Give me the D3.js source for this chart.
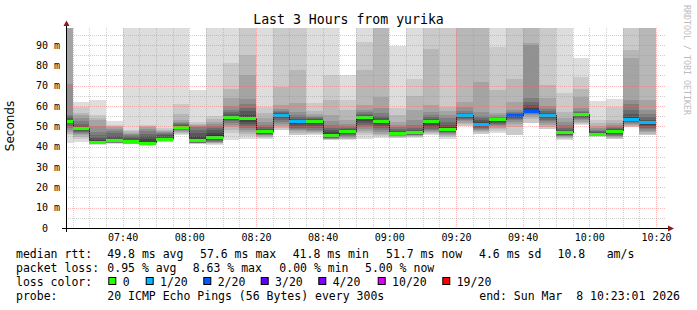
<!DOCTYPE html>
<html>
<head>
<meta charset="utf-8">
<script src="https://cdnjs.cloudflare.com/ajax/libs/d3/7.8.5/d3.min.js"></script>
<style>
  body { margin: 0; background: #fff; }
  svg text { font-family: "DejaVu Sans Mono", monospace; white-space: pre; }
</style>
</head>
<body>
<svg id="chart" width="697" height="310"></svg>
<script>
// start of each 5 minute step
const times = ["07:20", "07:25", "07:30", "07:35", "07:40", "07:45", "07:50", "07:55",
  "08:00", "08:05", "08:10", "08:15", "08:20", "08:25", "08:30", "08:35", "08:40", "08:45",
  "08:50", "08:55", "09:00", "09:05", "09:10", "09:15", "09:20", "09:25", "09:30", "09:35",
  "09:40", "09:45", "09:50", "09:55", "10:00", "10:05", "10:10", "10:15"];

const medians = [52.5, 49.0, 42.1, 43.1, 42.4, 41.8, 43.7, 49.6, 42.9, 44.7, 54.5, 53.7,
  47.3, 55.4, 52.5, 52.6, 45.3, 47.3, 54.4, 52.6, 46.5, 46.8, 52.2, 48.3, 55.5, 51.1,
  53.2, 55.2, 57.5, 55.5, 46.8, 55.9, 46.2, 47.7, 53.6, 51.8];

const lossCounts = [0, 0, 0, 0, 0, 0, 0, 0, 0, 0, 0, 0, 0, 1, 1, 0, 0, 0, 0, 0, 0, 0, 0, 0,
  1, 1, 0, 2, 2, 1, 0, 0, 0, 0, 1, 1];

// 20 sorted pings per step (ms), null = lost
const pings = [
  [42.0, 45.7, 46.0, 47.0, 48.0, 49.0, 50.0, 51.5, 52.0, 52.3, 52.8, 53.0, 54.0, 55.0, 55.5, 70.6, 104, 118, 135, 160],
  [42.3, 44.0, 44.8, 45.5, 46.0, 46.5, 47.0, 47.5, 48.0, 48.6, 49.2, 49.6, 50.2, 51.0, 52.5, 54.0, 55.8, 56.5, 59.6, 61.9],
  [41.0, 41.2, 41.4, 41.5, 41.6, 41.7, 41.8, 41.9, 42.0, 42.1, 42.5, 43.5, 44.5, 45.5, 47.0, 50.0, 53.0, 54.0, 55.5, 63.0],
  [41.5, 41.6, 41.7, 41.8, 41.9, 42.0, 42.2, 42.3, 42.5, 42.8, 43.5, 44.0, 45.0, 46.5, 47.5, 48.5, 49.5, 50.0, 50.5, 52.6],
  [41.2, 41.3, 41.4, 41.5, 41.6, 41.7, 41.8, 41.9, 42.0, 42.2, 42.8, 43.5, 44.5, 45.0, 45.5, 46.0, 46.5, 47.5, 48.3, 125],
  [40.5, 40.7, 40.9, 41.0, 41.1, 41.2, 41.3, 41.4, 41.5, 41.6, 42.0, 44.0, 45.0, 46.0, 47.5, 48.5, 49.5, 50.0, 50.6, 140],
  [42.2, 42.4, 42.6, 42.8, 43.0, 43.1, 43.2, 43.3, 43.4, 43.5, 44.0, 44.5, 45.5, 46.0, 46.5, 47.0, 47.5, 48.0, 49.0, 112],
  [45.7, 46.0, 46.5, 47.0, 47.5, 48.0, 48.5, 49.0, 49.2, 49.4, 49.8, 50.2, 50.5, 51.0, 51.5, 52.2, 53.0, 56.0, 60.9, 130],
  [41.3, 41.5, 41.6, 41.7, 41.8, 41.9, 42.0, 42.1, 42.3, 42.6, 43.5, 45.0, 46.5, 48.0, 49.5, 50.0, 50.5, 51.0, 52.0, 68.0],
  [41.0, 41.5, 41.8, 42.0, 42.2, 42.5, 43.0, 43.5, 44.0, 44.3, 45.5, 46.5, 48.0, 49.0, 50.0, 51.0, 52.0, 53.5, 54.9, 120],
  [43.3, 46.5, 48.0, 49.5, 50.5, 51.5, 52.5, 53.3, 53.8, 54.2, 54.8, 55.3, 56.0, 57.0, 58.0, 59.9, 63.7, 68.6, 81.2, 115],
  [44.0, 45.0, 46.0, 47.0, 48.0, 49.0, 50.0, 51.0, 52.0, 53.0, 54.2, 55.5, 57.5, 59.0, 61.0, 63.5, 75.0, 85.0, 108, 150],
  [44.0, 44.4, 44.8, 45.2, 45.5, 45.8, 46.1, 46.4, 46.7, 47.0, 47.7, 48.2, 48.8, 49.5, 50.5, 52.0, 54.0, 56.5, 59.5, 110],
  [44.2, 48.0, 49.0, 50.0, 51.0, 52.0, 53.0, 54.0, 54.5, 55.0, 55.6, 56.0, 56.5, 57.0, 57.5, 58.5, 60.6, 69.1, 105, null],
  [44.0, 45.5, 46.5, 47.5, 48.0, 48.5, 49.0, 50.0, 51.0, 52.0, 52.8, 53.2, 53.8, 54.5, 55.5, 57.0, 61.3, 77.6, 122, null],
  [45.5, 46.0, 46.5, 47.0, 47.5, 48.0, 49.0, 50.0, 51.0, 52.0, 52.9, 53.2, 53.5, 54.0, 54.5, 55.0, 56.0, 57.5, 61.3, 118],
  [43.2, 43.4, 43.6, 43.8, 44.0, 44.2, 44.4, 44.6, 44.8, 45.0, 45.8, 47.0, 48.0, 49.0, 50.5, 52.5, 55.5, 62.9, 75.2, 103],
  [43.2, 43.6, 44.0, 44.4, 44.7, 45.0, 45.5, 46.0, 46.5, 47.0, 47.6, 48.0, 48.5, 49.0, 50.0, 51.0, 53.0, 58.0, 62.9, 75.2],
  [44.0, 45.5, 46.5, 47.5, 48.5, 49.5, 50.5, 51.5, 52.5, 53.5, 54.7, 55.0, 55.5, 56.0, 57.0, 58.0, 60.5, 77.5, 91.5, 130],
  [44.2, 45.0, 45.5, 46.0, 47.0, 48.0, 49.0, 50.0, 51.0, 52.0, 52.9, 53.3, 54.0, 55.0, 56.5, 58.8, 64.5, 101, 125, 160],
  [44.1, 44.4, 44.7, 45.0, 45.2, 45.5, 45.7, 45.9, 46.1, 46.3, 46.8, 47.2, 47.8, 48.5, 49.5, 50.5, 52.2, 55.5, 58.8, 89.6],
  [44.3, 44.7, 45.0, 45.2, 45.5, 45.7, 45.9, 46.1, 46.3, 46.5, 47.1, 47.5, 48.0, 49.0, 50.5, 53.0, 58.0, 65.0, 73.3, 112],
  [45.5, 46.0, 46.5, 47.0, 47.5, 48.0, 48.5, 49.5, 50.5, 51.5, 52.4, 52.8, 53.5, 54.5, 55.5, 57.0, 60.4, 88.0, 106, 138],
  [44.0, 44.8, 45.3, 45.8, 46.2, 46.6, 47.0, 47.4, 47.7, 48.0, 48.8, 49.5, 50.5, 52.0, 54.0, 55.5, 57.5, 59.6, 104, 128],
  [49.7, 50.2, 51.0, 51.8, 52.5, 53.2, 53.8, 54.3, 54.8, 55.2, 55.7, 56.0, 56.3, 56.8, 57.5, 59.5, 62.0, 103, 120, null],
  [45.7, 46.3, 47.0, 47.5, 48.0, 48.5, 49.0, 49.5, 50.0, 50.5, 51.5, 52.0, 53.0, 54.0, 55.0, 57.2, 71.9, 102, 128, null],
  [46.5, 47.5, 48.5, 49.3, 50.0, 50.5, 51.0, 51.5, 52.2, 52.8, 53.4, 53.6, 53.9, 54.3, 54.8, 55.5, 56.4, 67.8, 89.0, 115],
  [null, 45.7, 49.5, 51.0, 52.0, 53.0, 53.5, 54.0, 54.5, 55.0, 55.4, 55.7, 56.0, 56.5, 57.0, 58.0, 62.0, 73.5, 110, null],
  [null, 51.5, 53.5, 54.8, 55.5, 56.0, 56.4, 56.7, 57.0, 57.2, 58.0, 59.0, 60.5, 62.0, 63.7, 90.0, 90.8, 108, 135, null],
  [47.7, 48.5, 49.5, 50.5, 51.5, 52.5, 53.2, 54.0, 54.5, 55.0, 55.8, 56.2, 56.8, 57.5, 58.5, 60.0, 63.7, 70.3, 112, null],
  [43.4, 43.8, 44.2, 44.6, 45.0, 45.3, 45.6, 45.9, 46.2, 46.5, 47.1, 47.5, 48.0, 49.0, 50.5, 52.0, 54.0, 57.2, 66.2, 108],
  [50.6, 51.1, 51.7, 52.3, 53.0, 53.5, 54.2, 54.8, 55.2, 55.6, 56.1, 56.3, 56.6, 57.0, 57.5, 58.8, 64.5, 68.6, 74.4, 83.7],
  [44.9, 45.1, 45.2, 45.3, 45.4, 45.5, 45.7, 45.8, 45.9, 46.0, 46.5, 46.8, 47.2, 47.7, 48.3, 49.0, 50.0, 51.5, 53.1, 62.4],
  [43.7, 44.0, 44.4, 44.7, 45.0, 45.3, 45.8, 46.3, 46.8, 47.3, 47.9, 48.2, 48.5, 49.0, 49.7, 50.5, 51.5, 53.0, 59.6, 63.4],
  [49.0, 49.5, 50.0, 50.5, 51.0, 51.5, 52.0, 52.4, 52.8, 53.2, 54.0, 54.5, 56.0, 58.0, 61.0, 63.0, 83.7, 87.5, 115, null],
  [44.9, 45.6, 46.3, 47.0, 47.8, 48.5, 49.3, 50.0, 50.7, 51.3, 52.1, 52.5, 53.3, 54.5, 56.0, 58.0, 62.9, 104, 126, null]
];

const lossThresholds = [0, 1, 2, 3, 4, 10, 19];
const lossColors = ["#26ff00", "#00b8ff", "#0059ff", "#5e00ff", "#7e00ff", "#dd00ff", "#ff0000"];

const rttStats = ["49.8 ms avg", "57.6 ms max", "41.8 ms min", "51.7 ms now", "4.6 ms sd", "10.8", "am/s"];
const lossStats = ["0.95 % avg", "8.63 % max", "0.00 % min", "5.00 % now"];
const probeText = "20 ICMP Echo Pings (56 Bytes) every 300s";
const endText = "end: Sun Mar  8 10:23:01 2026";
const titleText = "Last 3 Hours from yurika";

const start = new Date(2026, 2, 8, 7, 23, 1);
const end = new Date(2026, 2, 8, 10, 23, 1);
const yMax = 98.36;
const half = 10;

const svg = d3.select("#chart");
const plotLeft = 66, plotRight = 666, plotTop = 28, plotBottom = 228;

const x = d3.scaleTime().domain([start, end]).range([plotLeft, plotRight]);
const y = d3.scaleLinear().domain([0, yMax]).range([plotBottom, plotTop]);

function parseTime(t) {
  const p = t.split(":").map(Number);
  return new Date(2026, 2, 8, p[0], p[1], 0);
}

const bars = times.map((t, i) => {
  const t0 = parseTime(t);
  return {t0: t0, t1: new Date(+t0 + 5 * 60000), med: medians[i], loss: lossCounts[i], p: pings[i]};
});

function lossColor(n) {
  let idx = 0;
  lossThresholds.forEach((th, i) => { if (n >= th) idx = i; });
  return lossColors[idx];
}

svg.append("rect").attr("width", 697).attr("height", 310).attr("fill", "#fff");

svg.append("defs").append("clipPath").attr("id", "clip")
  .append("rect").attr("x", plotLeft).attr("y", plotTop)
  .attr("width", plotRight - plotLeft).attr("height", plotBottom - plotTop);

const plot = svg.append("g").attr("clip-path", "url(#clip)");

// smoke
for (let i = 1; i <= half; i++) {
  const c = Math.floor(190 / half * (half - i)) + 50;
  plot.append("g").selectAll("rect")
    .data(bars.filter(d => d.p[i - 1] != null && d.p[20 - i] != null))
    .join("rect")
    .attr("x", d => x(d.t0))
    .attr("width", d => x(d.t1) - x(d.t0))
    .attr("y", d => y(d.p[20 - i]))
    .attr("height", d => y(d.p[i - 1]) - y(d.p[20 - i]))
    .attr("fill", d3.rgb(c, c, c))
    .attr("shape-rendering", "crispEdges");
}

// grid
const grid = svg.append("g").attr("fill", "none").attr("stroke-width", 1).attr("stroke-dasharray", "1,1");
const minorX = d3.timeMinute.every(5).range(start, end).filter(d => d.getMinutes() % 20 !== 0);
const majorX = d3.timeMinute.every(20).range(start, end);
const px = v => Math.round(v) + 0.5;
const minorColor = "rgba(150,150,150,0.45)";
const majorColor = "rgba(255,100,100,0.45)";
grid.selectAll(".vmin").data(minorX).join("line")
  .attr("x1", d => px(x(d))).attr("x2", d => px(x(d)))
  .attr("y1", plotTop).attr("y2", plotBottom)
  .attr("stroke", minorColor);
grid.selectAll(".hmin").data(d3.range(5, 100, 10)).join("line")
  .attr("x1", plotLeft).attr("x2", plotRight)
  .attr("y1", d => px(y(d))).attr("y2", d => px(y(d)))
  .attr("stroke", minorColor);
grid.selectAll(".vmaj").data(majorX).join("line")
  .attr("x1", d => px(x(d))).attr("x2", d => px(x(d)))
  .attr("y1", plotTop).attr("y2", plotBottom)
  .attr("stroke", majorColor);
grid.selectAll(".hmaj").data(d3.range(10, 100, 10)).join("line")
  .attr("x1", plotLeft).attr("x2", plotRight)
  .attr("y1", d => px(y(d))).attr("y2", d => px(y(d)))
  .attr("stroke", majorColor);

// median staircase and loss coloured bands
const medPoints = bars.map(d => [d.t0, d.med]);
medPoints.push([bars[bars.length - 1].t1, bars[bars.length - 1].med]);
plot.append("path")
  .attr("d", d3.line().x(d => Math.round(x(d[0])) + 0.5).y(d => y(d[1])).curve(d3.curveStepAfter)(medPoints))
  .attr("fill", "none").attr("stroke", "#202020").attr("stroke-width", 1);

plot.append("g").selectAll("rect").data(bars).join("rect")
  .attr("x", d => x(d.t0))
  .attr("width", d => x(d.t1) - x(d.t0))
  .attr("y", d => y(d.med) - 1.5)
  .attr("height", 3)
  .attr("fill", d => lossColor(d.loss))
  .attr("shape-rendering", "crispEdges");

// axes labels
const xAxis = svg.append("g").attr("transform", `translate(0,${plotBottom})`)
  .call(d3.axisBottom(x).ticks(d3.timeMinute.every(20)).tickFormat(d3.timeFormat("%H:%M")).tickSize(0).tickPadding(6));
xAxis.select(".domain").remove();
xAxis.selectAll("text").attr("font-family", "DejaVu Sans Mono").attr("font-size", 10).attr("fill", "#000");

const yAxis = svg.append("g").attr("transform", `translate(${plotLeft},0)`)
  .call(d3.axisLeft(y).tickValues(d3.range(0, 100, 10)).tickFormat(d => d === 0 ? "0" : d + " m").tickSize(0).tickPadding(6));
yAxis.select(".domain").remove();
yAxis.selectAll("text").attr("font-family", "DejaVu Sans Mono").attr("font-size", 10).attr("fill", "#000")
  .filter(d => d === 0).attr("x", -18);

// axis lines and arrows
svg.append("line").attr("x1", 62).attr("x2", 669).attr("y1", plotBottom + 0.5).attr("y2", plotBottom + 0.5)
  .attr("stroke", "#000");
svg.append("line").attr("x1", plotLeft + 0.5).attr("x2", plotLeft + 0.5).attr("y1", plotBottom + 4).attr("y2", 25)
  .attr("stroke", "#000");
svg.append("path").attr("d", `M${plotLeft + 0.5},20.5 L${plotLeft - 2.5},26 L${plotLeft + 3.5},26 Z`).attr("fill", "#8b1a1a");
svg.append("path").attr("d", `M674,${plotBottom + 0.5} L668,${plotBottom - 2.5} L668,${plotBottom + 3.5} Z`).attr("fill", "#8b1a1a");

// titles
svg.append("text").attr("x", 348.5).attr("y", 24).attr("text-anchor", "middle")
  .attr("font-size", 13.2).text(titleText);
svg.append("text").attr("transform", "translate(14,126) rotate(-90)").attr("text-anchor", "middle")
  .style("font-family", "'DejaVu Sans', sans-serif").attr("font-size", 12).text("Seconds");
svg.append("text").attr("transform", "translate(684,5) rotate(90)")
  .attr("font-size", 8.3).attr("fill", "#bbbbbb").text("RRDTOOL / TOBI OETIKER");

// legend
const lg = svg.append("g").attr("font-size", 11.5).attr("fill", "#000");
const lineY = [258.3, 272.3, 286, 300];
lg.append("text").attr("x", 16).attr("y", lineY[0]).text("median rtt:");
const rttX = [107.3, 200, 292.7, 386, 479, 557.5, 606.7];
rttStats.forEach((s, i) => lg.append("text").attr("x", rttX[i]).attr("y", lineY[0]).text(s));

lg.append("text").attr("x", 16).attr("y", lineY[1]).text("packet loss:");
const lossX = [107.3, 192.7, 279.3, 365];
lossStats.forEach((s, i) => lg.append("text").attr("x", lossX[i]).attr("y", lineY[1]).text(s));

lg.append("text").attr("x", 16).attr("y", lineY[2]).text("loss color:");
const boxX = [108.3, 145.7, 203.3, 260.7, 318.3, 377.7, 442.3];
lossThresholds.forEach((th, i) => {
  lg.append("rect").attr("x", boxX[i] + 0.5).attr("y", 277.5).attr("width", 7).attr("height", 7)
    .attr("fill", lossColors[i]).attr("stroke", "#000").attr("stroke-width", 1);
  lg.append("text").attr("x", boxX[i] + 14.4).attr("y", lineY[2]).text(th === 0 ? "0" : th + "/20");
});

lg.append("text").attr("x", 16).attr("y", lineY[3]).text("probe:");
lg.append("text").attr("x", 107.3).attr("y", lineY[3]).text(probeText);
lg.append("text").attr("x", 680).attr("y", lineY[3]).attr("text-anchor", "end").text(endText);
</script>
</body>
</html>
